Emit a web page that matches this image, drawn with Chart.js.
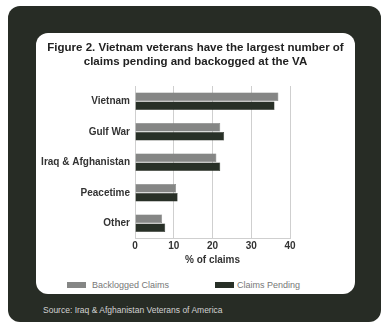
<!DOCTYPE html>
<html>
<head>
<meta charset="utf-8">
<script src="https://cdn.jsdelivr.net/npm/chart.js@4"></script>
<style>
  html, body { margin: 0; padding: 0; background: #fff; }
  body { width: 388px; height: 328px; position: relative; overflow: hidden; font-family: "Liberation Sans", Arial, sans-serif; }
  #frame { position: absolute; left: 8px; top: 6px; width: 373px; height: 316px; background: #272c25; border-radius: 12px; }
  #panel { position: absolute; left: 36px; top: 33px; width: 319px; height: 261px; background: #fff; border-radius: 12px; }
  #wrap { position: absolute; left: 36px; top: 33px; width: 319px; height: 240px; }
  .key { position: absolute; top: 282px; width: 19px; height: 6px; }
  .keyText { position: absolute; top: 279px; font-size: 9px; line-height: 13px; color: #777; }
  #source { position: absolute; left: 43px; top: 304px; font-size: 8.5px; line-height: 12px; color: #d2d2d2; }
</style>
</head>
<body>
<div id="frame"></div>
<div id="panel"></div>
<div id="wrap"><canvas id="chart" width="319" height="240"></canvas></div>

<div class="key" style="left:67px; background:#858685;"></div>
<div class="keyText" style="left:92px;">Backlogged Claims</div>
<div class="key" style="left:215px; background:#283027;"></div>
<div class="keyText" style="left:237px;">Claims Pending</div>
<div id="source">Source: Iraq &amp; Afghanistan Veterans of America</div>

<script>
// Data
const categories = ["Vietnam", "Gulf War", "Iraq & Afghanistan", "Peacetime", "Other"];
const backlogged = [37, 22, 21, 10.6, 7];
const pending = [36, 23, 22, 11, 7.8];
const xTicks = [0, 10, 20, 30, 40];
const titleLines = [
    "Figure 2. Vietnam veterans have the largest number of",
    "claims pending and backogged at the VA"
];

const FONT = "'Liberation Sans', Arial, sans-serif";

new Chart(document.getElementById("chart"), {
    type: "bar",
    data: {
        labels: categories,
        datasets: [
            { label: "Backlogged Claims", data: backlogged, backgroundColor: "#858685", borderColor: "#6e706d", borderWidth: 0.5 },
            { label: "Claims Pending", data: pending, backgroundColor: "#283027", borderColor: "#1c221b", borderWidth: 0.5 }
        ]
    },
    options: {
        indexAxis: "y",
        responsive: false,
        animation: false,
        categoryPercentage: 0.6,
        barPercentage: 0.92,
        layout: { padding: { left: 0, right: 0, top: 0, bottom: 6.5 } },
        plugins: {
            legend: { display: false },
            tooltip: { enabled: false },
            title: {
                display: true,
                text: titleLines,
                color: "#222",
                font: { family: FONT, size: 11.5, weight: "bold", lineHeight: "14px" },
                padding: { top: 8, bottom: 17 }
            }
        },
        scales: {
            x: {
                min: 0,
                max: 40,
                afterBuildTicks: axis => { axis.ticks = xTicks.map(v => ({ value: v })); },
                grid: { color: "#cfcfcf", lineWidth: 1, drawTicks: false },
                border: { display: true, color: "#cfcfcf" },
                ticks: { color: "#333", padding: 2, font: { family: FONT, size: 10, weight: "bold" } },
                title: {
                    display: true,
                    text: "% of claims",
                    color: "#333",
                    padding: { top: 0, bottom: 0 },
                    font: { family: FONT, size: 10, weight: "bold" }
                }
            },
            y: {
                afterFit: s => { s.width = 99; },
                grid: { display: false, drawTicks: false },
                border: { display: false },
                ticks: { color: "#333", padding: 5, font: { family: FONT, size: 10, weight: "bold" } }
            },
            // empty strip on the right so the plot ends at 40 like the original
            yRight: {
                axis: "y",
                type: "category",
                position: "right",
                afterFit: s => { s.width = 65; },
                grid: { display: false, drawTicks: false },
                border: { display: false },
                ticks: { display: false }
            }
        }
    }
});
</script>
</body>
</html>
